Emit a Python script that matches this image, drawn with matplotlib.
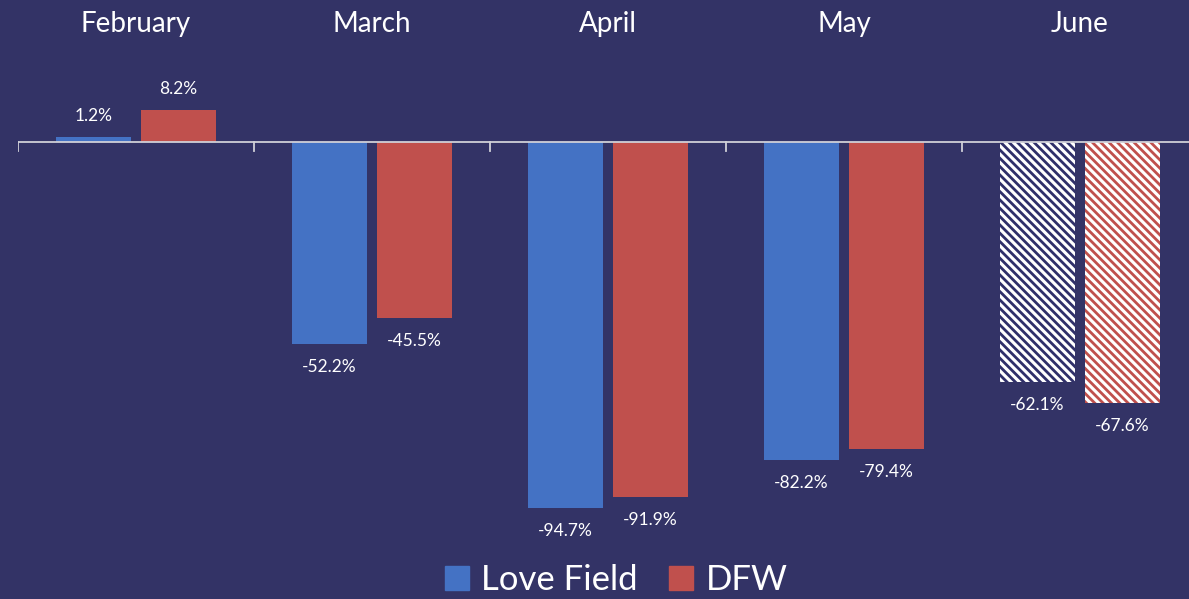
import matplotlib.pyplot as plt
import numpy as np

months = ['February', 'March', 'April', 'May', 'June']
love_field = [1.2, -52.2, -94.7, -82.2, -62.1]
dfw = [8.2, -45.5, -91.9, -79.4, -67.6]
series_names = ['Love Field', 'DFW']

bg = '#333366'
blue = '#4472C4'
red = '#C0504D'
navy = '#2F2F6A'

plt.rcParams['font.family'] = ['Lato', 'DejaVu Sans']
plt.rcParams['hatch.linewidth'] = 2.0

fig = plt.figure(figsize=(11.89, 5.99), dpi=100, facecolor=bg)
# axes runs a bit past the right edge, like the original
ax = fig.add_axes([18 / 1189, 0, 1180 / 1189, 1])
ax.set_facecolor(bg)

x = np.arange(len(months))
w = 0.318
off = 0.18

for i, (a, b) in enumerate(zip(love_field, dfw)):
    forecast = i == len(months) - 1
    if forecast:
        ax.bar(x[i] - off, a, w, facecolor='white', edgecolor=navy, hatch='\\\\\\\\', linewidth=0)
        ax.bar(x[i] + off, b, w, facecolor='white', edgecolor=red, hatch='\\\\\\\\', linewidth=0)
    else:
        ax.bar(x[i] - off, a, w, color=blue)
        ax.bar(x[i] + off, b, w, color=red)
    for xv, v in ((x[i] - off, a), (x[i] + off, b)):
        if v >= 0:
            ax.text(xv, v + 5.5, f'{v:.1f}%', ha='center', va='center', color='white', fontsize=12.5)
        else:
            ax.text(xv, v - 6.0, f'{v:.1f}%', ha='center', va='center', color='white', fontsize=12.5)
    ax.text(x[i], 30.6, months[i], ha='center', va='center', color='white', fontsize=20)

ax.set_xlim(-0.5, len(months) - 0.5)
ax.set_ylim(-118.24, 36.74)
ax.axhline(0, color='#D0D0D8', lw=1.3)
for t in np.arange(len(months) + 1) - 0.5:
    ax.plot([t, t], [0, -2.2], color='#D0D0D8', lw=1.3)

for s in ax.spines.values():
    s.set_visible(False)
ax.set_xticks([])
ax.set_yticks([])

h1 = plt.Rectangle((0, 0), 1, 1, color=blue)
h2 = plt.Rectangle((0, 0), 1, 1, color=red)
fig.legend([h1, h2], series_names, loc='center', bbox_to_anchor=(616 / 1189, 1 - 580 / 599),
           ncol=2, frameon=False, fontsize=25, labelcolor='white',
           handlelength=0.7, handleheight=0.7, handletextpad=0.35, columnspacing=0.9)

fig.savefig('out.png', dpi=100, facecolor=bg)
